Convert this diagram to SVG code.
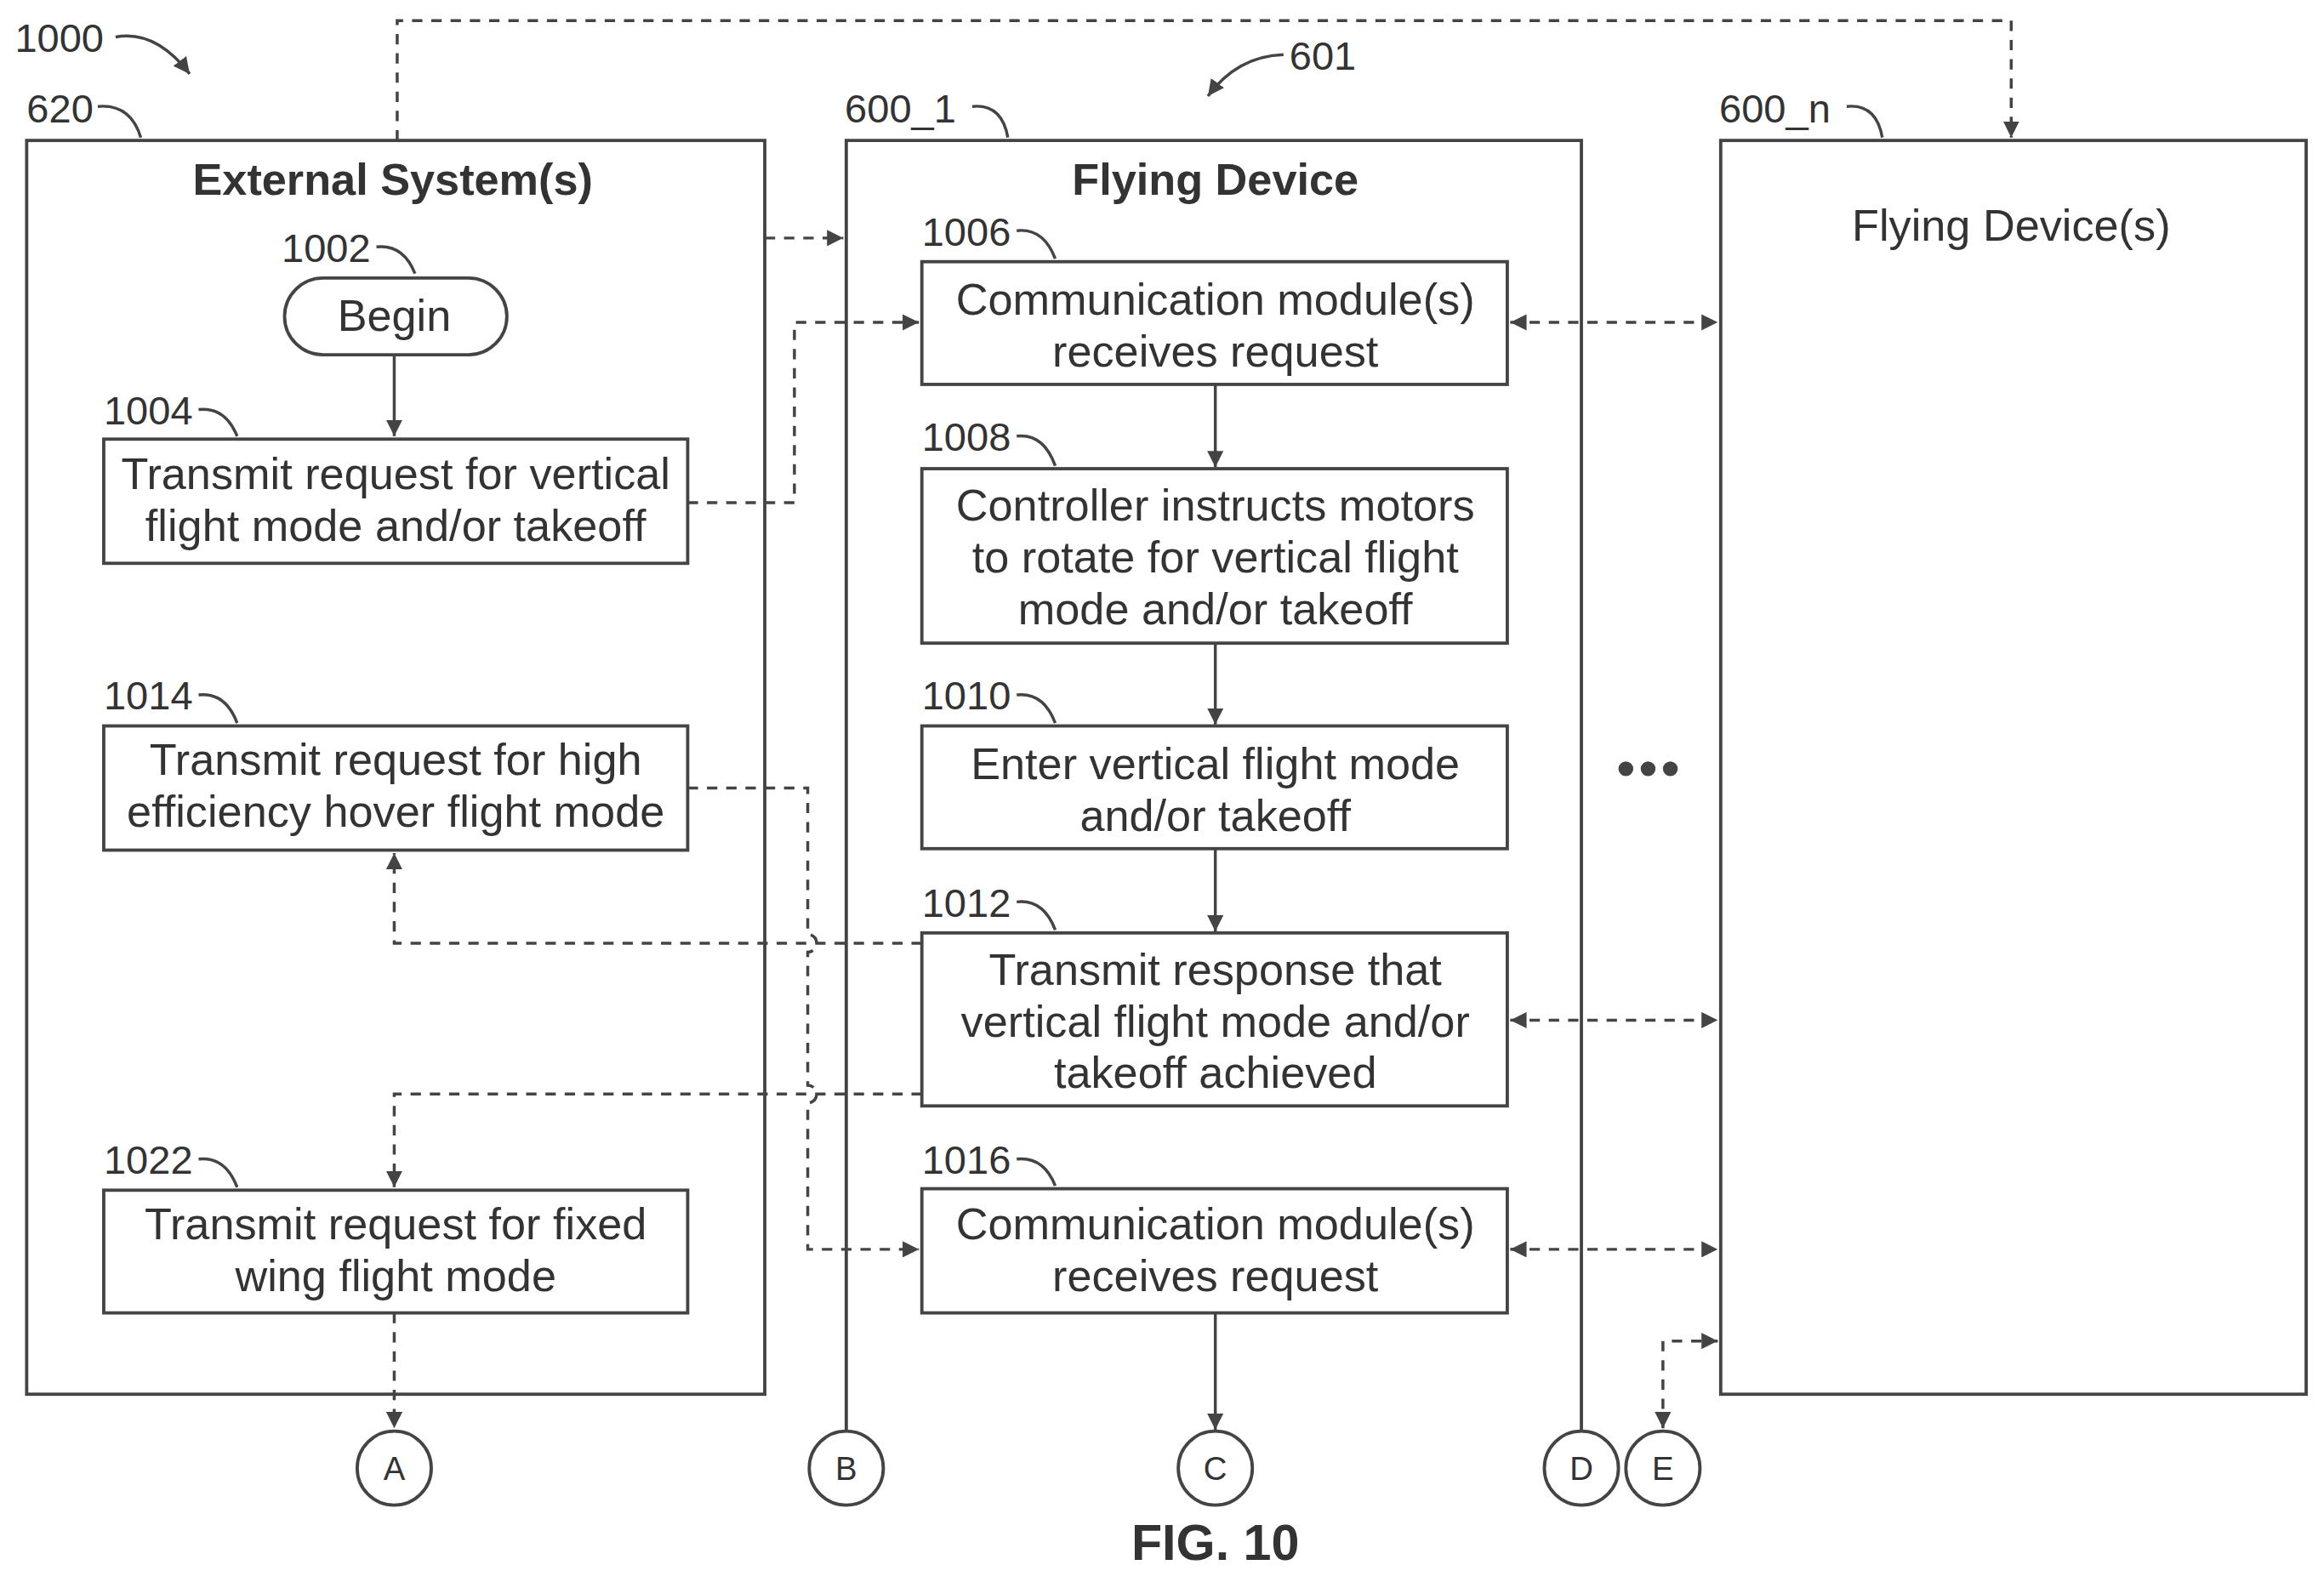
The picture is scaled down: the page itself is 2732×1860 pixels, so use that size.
<svg xmlns="http://www.w3.org/2000/svg" width="2732" height="1860" viewBox="0 0 2732 1860">
<style>
.b{fill:none;stroke:#444;stroke-width:2.2}
.d{fill:none;stroke:#444;stroke-width:2;stroke-dasharray:7 6}
.s{fill:none;stroke:#444;stroke-width:2}
.t{font-family:"Liberation Sans",Arial,sans-serif;font-size:30px;fill:#333;text-anchor:middle}
.l{font-family:"Liberation Sans",Arial,sans-serif;font-size:27px;fill:#333}
.h{font-family:"Liberation Sans",Arial,sans-serif;font-size:30px;font-weight:bold;fill:#333;text-anchor:middle}
.c{font-family:"Liberation Sans",Arial,sans-serif;font-size:22px;fill:#333;text-anchor:middle}
</style>
<defs>
<marker id="a" viewBox="0 0 10 10" refX="10" refY="5" markerWidth="11" markerHeight="11" markerUnits="userSpaceOnUse" orient="auto-start-reverse"><path d="M0,0L10,5L0,10z" fill="#444"/></marker>
</defs>
<rect width="2732" height="1860" fill="#fff"/>
<g transform="scale(1.7423,1.7383)">
<g id="labels">
<text class="l" x="10" y="35">1000</text><path class="s" d="M78,25 Q105,20 128,50" marker-end="url(#a)"/>
<text class="l" x="18" y="83">620</text><path class="s" d="M66,72 Q88,70 95,93"/>
<text class="l" x="870" y="47">601</text><path class="s" d="M866,37 Q835,38 815,65" marker-end="url(#a)"/>
<text class="l" x="570" y="83">600_1</text><path class="s" d="M656,72 Q676,70 680,93"/>
<text class="l" x="1160" y="83">600_n</text><path class="s" d="M1246,72 Q1266,70 1270,93"/>
<text class="h" x="820" y="1055" style="font-size:34px">FIG. 10</text>
</g>
<g id="ext"><rect class="b" x="18" y="95" width="498" height="848"/><text class="h" x="265" y="132">External System(s)</text></g>
<g id="n1002"><text class="l" x="190" y="177">1002</text><path class="s" d="M254,167 Q272,165 280,185"/><rect class="b" x="192" y="188" width="150" height="52" rx="26"/><text class="t" x="266" y="224">Begin</text></g>
<g id="n1004"><text class="l" x="70" y="287">1004</text><path class="s" d="M134,277 Q152,275 160,295"/><rect class="b" x="70" y="297" width="394" height="84"/><text class="t" x="267" y="331">Transmit request for vertical</text><text class="t" x="267" y="366">flight mode and/or takeoff</text></g>
<g id="n1014"><text class="l" x="70" y="480">1014</text><path class="s" d="M134,470 Q152,468 160,489"/><rect class="b" x="70" y="491" width="394" height="84"/><text class="t" x="267" y="524">Transmit request for high</text><text class="t" x="267" y="559">efficiency hover flight mode</text></g>
<g id="n1022"><text class="l" x="70" y="794">1022</text><path class="s" d="M134,784 Q152,782 160,803"/><rect class="b" x="70" y="805" width="394" height="83"/><text class="t" x="267" y="838">Transmit request for fixed</text><text class="t" x="267" y="873">wing flight mode</text></g>
<g id="fd1"><path class="b" d="M571,968V95H1067V968"/><text class="h" x="820" y="132">Flying Device</text></g>
<g id="n1006"><text class="l" x="622" y="166">1006</text><path class="s" d="M686,156 Q704,154 712,175"/><rect class="b" x="622" y="177" width="395" height="83"/><text class="t" x="820" y="213">Communication module(s)</text><text class="t" x="820" y="248">receives request</text></g>
<g id="n1008"><text class="l" x="622" y="305">1008</text><path class="s" d="M686,295 Q704,293 712,315"/><rect class="b" x="622" y="317" width="395" height="118"/><text class="t" x="820" y="352">Controller instructs motors</text><text class="t" x="820" y="387">to rotate for vertical flight</text><text class="t" x="820" y="422">mode and/or takeoff</text></g>
<g id="n1010"><text class="l" x="622" y="480">1010</text><path class="s" d="M686,470 Q704,468 712,489"/><rect class="b" x="622" y="491" width="395" height="83"/><text class="t" x="820" y="527">Enter vertical flight mode</text><text class="t" x="820" y="562">and/or takeoff</text></g>
<g id="n1012"><text class="l" x="622" y="620">1012</text><path class="s" d="M686,610 Q704,608 712,629"/><rect class="b" x="622" y="631" width="395" height="117"/><text class="t" x="820" y="666">Transmit response that</text><text class="t" x="820" y="701">vertical flight mode and/or</text><text class="t" x="820" y="736">takeoff achieved</text></g>
<g id="n1016"><text class="l" x="622" y="794">1016</text><path class="s" d="M686,784 Q704,782 712,802"/><rect class="b" x="622" y="804" width="395" height="84"/><text class="t" x="820" y="838">Communication module(s)</text><text class="t" x="820" y="873">receives request</text></g>
<g id="fdn"><rect class="b" x="1161" y="95" width="395" height="848"/><text class="t" x="1357" y="163">Flying Device(s)</text></g>
<g id="dots" fill="#444"><circle cx="1097" cy="520" r="5"/><circle cx="1112" cy="520" r="5"/><circle cx="1127" cy="520" r="5"/></g>
<g id="A"><circle class="b" cx="266" cy="993" r="25"/><text class="c" x="266" y="1001">A</text></g>
<g id="B"><circle class="b" cx="571" cy="993" r="25"/><text class="c" x="571" y="1001">B</text></g>
<g id="C"><circle class="b" cx="820" cy="993" r="25"/><text class="c" x="820" y="1001">C</text></g>
<g id="D"><circle class="b" cx="1067" cy="993" r="25"/><text class="c" x="1067" y="1001">D</text></g>
<g id="E"><circle class="b" cx="1122" cy="993" r="25"/><text class="c" x="1122" y="1001">E</text></g>
<g id="connectors">
<path class="s" d="M266,240V295" marker-end="url(#a)"/>
<path class="s" d="M820,260V316" marker-end="url(#a)"/>
<path class="s" d="M820,435V490" marker-end="url(#a)"/>
<path class="s" d="M820,574V630" marker-end="url(#a)"/>
<path class="s" d="M820,888V967" marker-end="url(#a)"/>
<path class="d" d="M268,95V14H1357V93" marker-end="url(#a)"/>
<path class="d" d="M516,161H569" marker-end="url(#a)"/>
<path class="d" d="M464,340H536V218H620" marker-end="url(#a)"/>
<path class="d" d="M464,533H545V632A6,6 0 0 1 545,644V734A6,6 0 0 1 545,746V845H620" marker-end="url(#a)"/>
<path class="d" d="M622,638H266V577" marker-end="url(#a)"/>
<path class="d" d="M622,740H266V803" marker-end="url(#a)"/>
<path class="d" d="M266,888V966" marker-end="url(#a)"/>
<path class="d" d="M1019,218H1159" marker-start="url(#a)" marker-end="url(#a)"/>
<path class="d" d="M1019,690H1159" marker-start="url(#a)" marker-end="url(#a)"/>
<path class="d" d="M1019,845H1159" marker-start="url(#a)" marker-end="url(#a)"/>
<path class="d" d="M1122,966V907H1159" marker-start="url(#a)" marker-end="url(#a)"/>
</g>
</g>
</svg>
